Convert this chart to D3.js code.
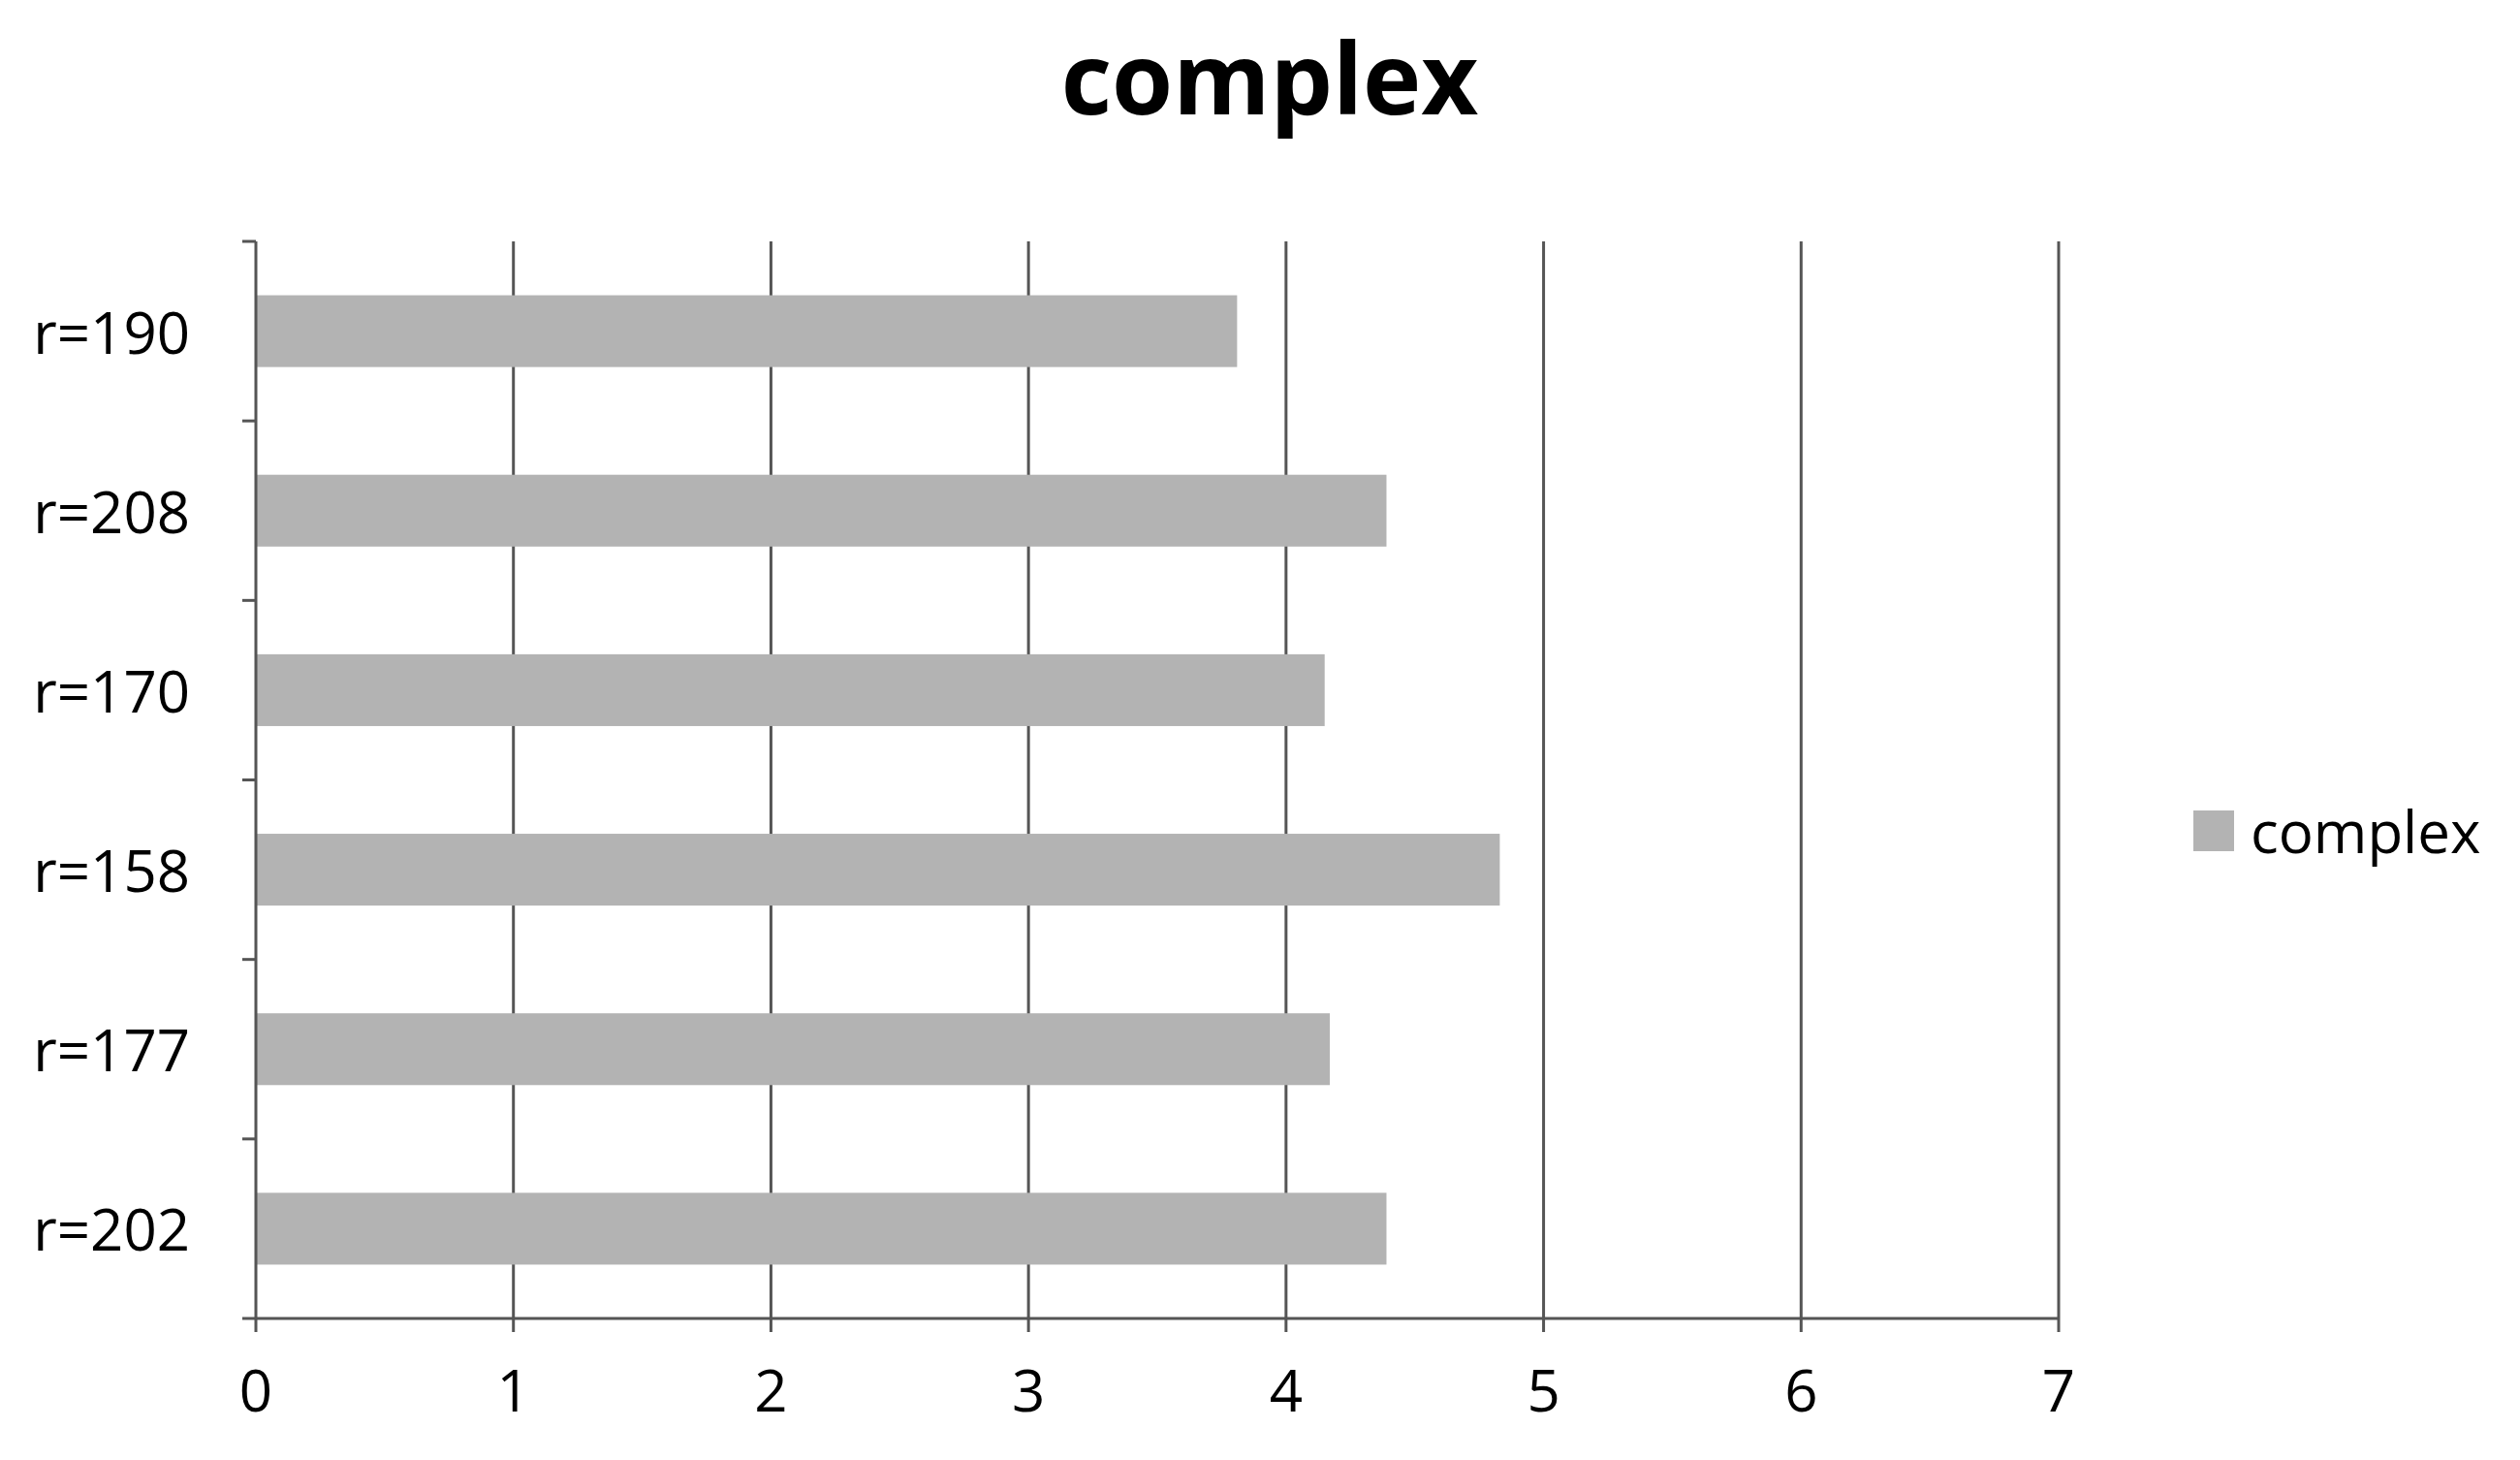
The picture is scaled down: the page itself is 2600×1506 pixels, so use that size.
<!DOCTYPE html>
<html>
<head>
<meta charset="utf-8">
<script src="https://cdn.jsdelivr.net/npm/d3@7"></script>
<style>
  body { margin: 0; background: #fff; }
  text { font-family: "Open Sans", "DejaVu Sans", sans-serif; }
</style>
</head>
<body>
<svg id="chart" width="2600" height="1506"></svg>
<script>
var categories = ["r=190", "r=208", "r=170", "r=158", "r=177", "r=202"];
var values = [3.81, 4.39, 4.15, 4.83, 4.17, 4.39];
var xTicks = [0, 1, 2, 3, 4, 5, 6, 7];
var seriesName = "complex";

var margin = { top: 249, left: 264, right: 476, bottom: 146 },
	width = 2600 - margin.left - margin.right,
	height = 1506 - margin.top - margin.bottom;

var svg = d3.select("#chart");
var g = svg.append("g").attr("transform", "translate(" + margin.left + "," + margin.top + ")");

var x = d3.scaleLinear().domain([0, 7]).range([0, width]);
var y = d3.scaleBand().domain(categories).range([0, height]).paddingInner(0.6).paddingOuter(0.3);

// gridlines
g.selectAll("line.grid").data(xTicks.slice(1)).enter().append("line")
	.attr("x1", d => x(d)).attr("x2", d => x(d))
	.attr("y1", 0).attr("y2", height)
	.attr("stroke", "#555").attr("stroke-width", 3);

// bars
g.selectAll("rect.bar").data(values).enter().append("rect")
	.attr("x", 0)
	.attr("y", (d, i) => y(categories[i]))
	.attr("width", d => x(d))
	.attr("height", y.bandwidth())
	.attr("fill", "#b3b3b3");

// left axis line and ticks at band edges
var step = height / categories.length;
g.append("line").attr("x1", 0).attr("x2", 0).attr("y1", 0).attr("y2", height)
	.attr("stroke", "#555").attr("stroke-width", 3);
g.selectAll("line.ytick").data(d3.range(categories.length + 1)).enter().append("line")
	.attr("x1", -14).attr("x2", 0)
	.attr("y1", d => d * step).attr("y2", d => d * step)
	.attr("stroke", "#555").attr("stroke-width", 3);
g.selectAll("text.ylab").data(categories).enter().append("text")
	.attr("x", -68).attr("y", d => y(d) + y.bandwidth() / 2)
	.attr("text-anchor", "end").attr("dominant-baseline", "central")
	.attr("font-size", 60).text(d => d);

// bottom axis
g.append("line").attr("x1", 0).attr("x2", width).attr("y1", height).attr("y2", height)
	.attr("stroke", "#555").attr("stroke-width", 3);
g.selectAll("line.xtick").data(xTicks).enter().append("line")
	.attr("x1", d => x(d)).attr("x2", d => x(d))
	.attr("y1", height).attr("y2", height + 14)
	.attr("stroke", "#555").attr("stroke-width", 3);
g.selectAll("text.xlab").data(xTicks).enter().append("text")
	.attr("x", d => x(d)).attr("y", height + 96)
	.attr("text-anchor", "middle").attr("font-size", 60).text(d => d);

// title
svg.append("text").attr("x", 1310).attr("y", 118)
	.attr("text-anchor", "middle").attr("font-size", 102).attr("font-weight", "bold")
	.text(seriesName);

// legend
svg.append("rect").attr("x", 2263).attr("y", 836).attr("width", 42).attr("height", 42).attr("fill", "#b3b3b3");
svg.append("text").attr("x", 2322).attr("y", 857).attr("dominant-baseline", "central")
	.attr("font-size", 60).text(seriesName);
</script>
</body>
</html>
